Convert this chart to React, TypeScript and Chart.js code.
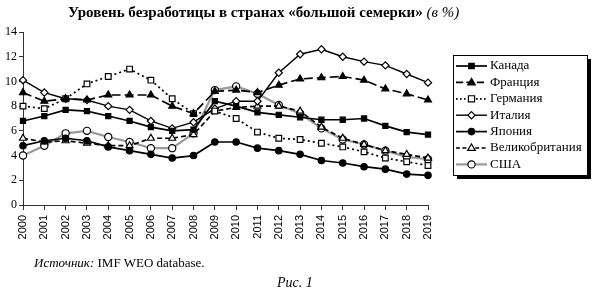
import React, { useEffect, useRef } from "react";
import { Chart, registerables } from "chart.js";

Chart.register(...registerables);

const years = ["2000","2001","2002","2003","2004","2005","2006","2007","2008","2009","2010","2011","2012","2013","2014","2015","2016","2017","2018","2019"];
const canada = [6.8,7.2,7.7,7.6,7.2,6.8,6.3,6.0,6.1,8.4,8.0,7.5,7.3,7.1,6.9,6.9,7.0,6.4,5.9,5.7];
const france = [9.1,8.4,8.6,8.5,8.9,8.9,8.9,8.0,7.4,9.2,9.3,9.1,9.7,10.2,10.3,10.4,10.1,9.4,9.0,8.5];
const germany = [8.0,7.8,8.6,9.8,10.4,11.0,10.1,8.6,7.4,7.6,7.0,5.9,5.4,5.3,5.0,4.7,4.3,3.8,3.5,3.2];
const italy = [10.1,9.1,8.6,8.5,8.0,7.7,6.8,6.2,6.7,7.8,8.4,8.4,10.7,12.2,12.6,12.0,11.6,11.3,10.6,9.9];
const japan = [4.8,5.2,5.4,5.2,4.7,4.4,4.1,3.8,4.0,5.1,5.1,4.6,4.4,4.1,3.6,3.4,3.1,2.9,2.5,2.4];
const uk = [5.4,5.1,5.2,5.0,4.8,4.8,5.4,5.4,5.7,7.6,7.9,8.0,8.0,7.6,6.3,5.4,4.9,4.4,4.1,3.8];
const usa = [4.0,4.8,5.8,6.0,5.5,5.1,4.6,4.6,5.8,9.3,9.6,9.0,8.1,7.4,6.2,5.3,4.9,4.4,3.9,3.7];

const names = ["Канада","Франция","Германия","Италия","Япония","Великобритания","США"];
const yTicks = [0, 2, 4, 6, 8, 10, 12, 14];

type Style = { color: string; width: number; dash: number[]; point: string; fill: string; r: number };
const styles: Style[] = [
  { color: "#000", width: 1.7, dash: [], point: "rect", fill: "#000", r: 3.2 },
  { color: "#000", width: 1.7, dash: [9, 4], point: "triangle", fill: "#000", r: 4 },
  { color: "#000", width: 1.7, dash: [2, 3], point: "rect", fill: "#fff", r: 3.6 },
  { color: "#000", width: 1.4, dash: [], point: "rectRot", fill: "#fff", r: 3.6 },
  { color: "#000", width: 1.7, dash: [], point: "circle", fill: "#000", r: 3.2 },
  { color: "#000", width: 1.7, dash: [5, 3], point: "triangle", fill: "#fff", r: 4 },
  { color: "#999", width: 2.2, dash: [], point: "circle", fill: "#fff", r: 3.6 },
];

function drawMarker(ctx: CanvasRenderingContext2D, s: Style, x: number, y: number) {
  ctx.save();
  ctx.setLineDash([]);
  ctx.fillStyle = s.fill;
  ctx.strokeStyle = "#000";
  ctx.lineWidth = 1.2;
  ctx.beginPath();
  const r = s.r;
  if (s.point === "rect") {
    ctx.rect(x - r * 0.85, y - r * 0.85, r * 1.7, r * 1.7);
  } else if (s.point === "triangle") {
    ctx.moveTo(x, y - r);
    ctx.lineTo(x + r * 0.95, y + r * 0.6);
    ctx.lineTo(x - r * 0.95, y + r * 0.6);
    ctx.closePath();
  } else if (s.point === "rectRot") {
    ctx.moveTo(x, y - r);
    ctx.lineTo(x + r, y);
    ctx.lineTo(x, y + r);
    ctx.lineTo(x - r, y);
    ctx.closePath();
  } else {
    ctx.arc(x, y, r, 0, Math.PI * 2);
  }
  ctx.fill();
  ctx.stroke();
  ctx.restore();
}

const legendPlugin = {
  id: "customLegend",
  afterDraw(chart: any) {
    const ctx: CanvasRenderingContext2D = chart.ctx;
    const bx = 453, by = 55, bw = 134, bh = 120;
    ctx.save();
    ctx.fillStyle = "#000";
    ctx.fillRect(bx + 4, by + 4, bw, bh);
    ctx.fillStyle = "#fff";
    ctx.fillRect(bx, by, bw, bh);
    ctx.strokeStyle = "#000";
    ctx.lineWidth = 1;
    ctx.strokeRect(bx + 0.5, by + 0.5, bw, bh);
    ctx.font = '13px "Liberation Serif"';
    ctx.textBaseline = "middle";
    for (let i = 0; i < names.length; i++) {
      const s = styles[i];
      const y = 66 + i * 16.4;
      ctx.save();
      ctx.strokeStyle = s.color;
      ctx.lineWidth = s.width;
      ctx.setLineDash(s.dash.length ? s.dash.map((d) => d * 0.8) : []);
      ctx.beginPath();
      ctx.moveTo(456, y);
      ctx.lineTo(487, y);
      ctx.stroke();
      ctx.restore();
      drawMarker(ctx, s, 471.5, y);
      ctx.fillStyle = "#000";
      ctx.fillText(names[i], 490, y);
    }
    ctx.restore();
  },
};

const series = [canada, france, germany, italy, japan, uk, usa];

export default function App() {
  const ref = useRef<HTMLCanvasElement | null>(null);
  useEffect(() => {
    if (!ref.current) return;
    const chart = new Chart(ref.current, {
      type: "line",
      data: {
        labels: years,
        datasets: series.map((d, i) => ({
          label: names[i],
          data: d,
          borderColor: styles[i].color,
          borderWidth: styles[i].width,
          borderDash: styles[i].dash,
          pointStyle: styles[i].point as any,
          pointRadius: styles[i].point === "rect" ? styles[i].r + 0.4 : styles[i].r,
          pointBackgroundColor: styles[i].fill,
          pointBorderColor: "#000",
          pointBorderWidth: 1.2,
          tension: 0,
          fill: false,
        })),
      },
      options: {
        responsive: false,
        animation: false,
        devicePixelRatio: 1,
        layout: { padding: { top: 32, right: 167, bottom: 38, left: 0 } },
        plugins: {
          legend: { display: false },
          title: { display: false },
          tooltip: { enabled: false },
        },
        scales: {
          x: {
            type: "category",
            offset: false,
            grid: { display: true, drawOnChartArea: false, drawTicks: true, tickLength: 5, color: "#333" },
            border: { display: true, color: "#333", width: 1 },
            ticks: {
              autoSkip: false,
              minRotation: 90,
              maxRotation: 90,
              padding: 5,
              color: "#000",
              font: { family: "Liberation Sans", size: 11 },
            },
            afterFit: (s: any) => { s.height = 47; },
          },
          y: {
            min: 0,
            max: 14,
            afterBuildTicks: (s: any) => { s.ticks = yTicks.map((v) => ({ value: v })); },
            grid: { display: true, drawOnChartArea: false, drawTicks: true, tickLength: 4, color: "#333" },
            border: { display: true, color: "#333", width: 1 },
            ticks: {
              padding: 2,
              color: "#000",
              font: { family: "Liberation Serif", size: 12 },
            },
            afterFit: (s: any) => { s.width = 23; },
          },
        },
      },
      plugins: [legendPlugin],
    });
    return () => chart.destroy();
  }, []);

  return (
    <div style={{ position: "fixed", left: 0, top: 0, width: 595, height: 290, background: "#fff" }}>
      <canvas ref={ref} width={595} height={290} style={{ position: "absolute", left: 0, top: 0, width: 595, height: 290 }} />
      <div style={{ position: "absolute", left: 68, top: 5, whiteSpace: "nowrap", fontFamily: '"Liberation Serif"', fontSize: 15, lineHeight: "15px", fontWeight: "bold", color: "#000" }}>
        Уровень безработицы в странах «большой семерки» <span style={{ fontWeight: "normal", fontStyle: "italic" }}>(в %)</span>
      </div>
      <div style={{ position: "absolute", left: 34, top: 256, whiteSpace: "nowrap", fontFamily: '"Liberation Serif"', fontSize: 13, lineHeight: "13px", color: "#000" }}>
        <i>Источник:</i> IMF WEO database.
      </div>
      <div style={{ position: "absolute", left: 277, top: 276, whiteSpace: "nowrap", fontFamily: '"Liberation Serif"', fontSize: 14, lineHeight: "14px", fontStyle: "italic", color: "#000" }}>
        Рис. 1
      </div>
    </div>
  );
}
